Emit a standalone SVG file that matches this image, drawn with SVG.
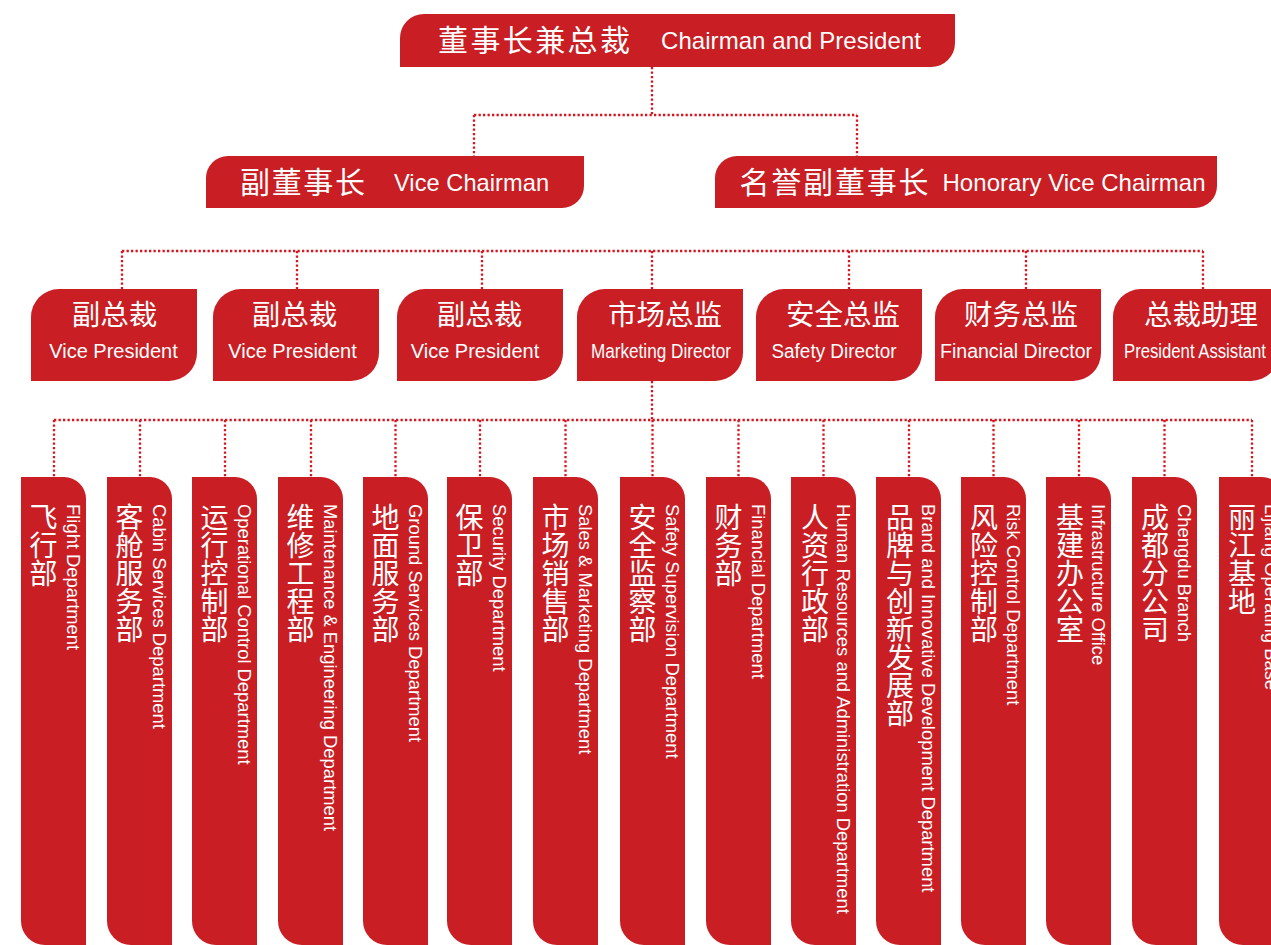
<svg xmlns="http://www.w3.org/2000/svg" xmlns:xlink="http://www.w3.org/1999/xlink" width="1271" height="945" viewBox="0 0 1271 945">
<style>
.box{fill:#c81e24}
.zh{font-family:"Noto Sans CJK SC","Noto Sans CJK TC",sans-serif;fill:#fff}
.en{font-family:"Liberation Sans",Arial,sans-serif;fill:#fff}
.dot{fill:none;stroke:#d8161f;stroke-width:2.3;stroke-dasharray:2.3 2.2}
.vz{font-family:"Noto Sans CJK SC",sans-serif;fill:#fff;font-size:28px;writing-mode:vertical-rl}
.ve{font-family:"Liberation Sans",Arial,sans-serif;fill:#fff;font-size:18.4px}
.l3z{font-size:28.5px;text-anchor:middle}
.l3e{font-size:20px;text-anchor:middle}
</style>
<defs>
<path id="l3" d="M28,0 H166 V64 A28,28 0 0 1 138,92 H0 V28 A28,28 0 0 1 28,0 Z"/>
<path id="dp" d="M0,0 H43 A22,22 0 0 1 65,22 V468 H24 A24,24 0 0 1 0,444 Z"/>
</defs>
<g id="connectors" class="dot">
<path d="M652,67 V115 M474,115 H857 M474,115 V156 M857,115 V156"/>
<path d="M122,251 H1203 M122,251 V289 M297,251 V289 M482,251 V289 M652,251 V289 M849,251 V289 M1026,251 V289 M1203,251 V289"/>
<path d="M652,381 V420 M54,420 H1252 M54,420 V477 M140,420 V477 M225,420 V477 M311,420 V477 M395.5,420 V477 M480,420 V477 M565.5,420 V477 M652.5,420 V477 M738.5,420 V477 M823.5,420 V477 M909,420 V477 M993.5,420 V477 M1079,420 V477 M1164.5,420 V477 M1252,420 V477"/>
</g>
<g id="chairman">
<path class="box" d="M424,14 H955 V43 A24,24 0 0 1 931,67 H400 V38 A24,24 0 0 1 424,14 Z"/>
<text class="zh" x="438" y="51" font-size="30" textLength="192">董事长兼总裁</text>
<text class="en" x="661" y="49" font-size="24" textLength="260">Chairman and President</text>
</g>
<g id="vice-chairman">
<path class="box" d="M228,156 H584 V186 A22,22 0 0 1 562,208 H206 V178 A22,22 0 0 1 228,156 Z"/>
<text class="zh" x="240" y="193" font-size="30" textLength="125">副董事长</text>
<text class="en" x="394" y="191" font-size="23.6" textLength="155">Vice Chairman</text>
</g>
<g id="honorary-vice-chairman">
<path class="box" d="M737,156 H1217 V186 A22,22 0 0 1 1195,208 H715 V178 A22,22 0 0 1 737,156 Z"/>
<text class="zh" x="739.5" y="193" font-size="30" textLength="189">名誉副董事长</text>
<text class="en" x="942.5" y="191" font-size="24" textLength="263">Honorary Vice Chairman</text>
</g>
<g id="vp1"><use href="#l3" class="box" x="31" y="289"/><text class="zh l3z" x="114.5" y="325">副总裁</text><text class="en l3e" x="113.5" y="358" font-size="21">Vice President</text></g>
<g id="vp2"><use href="#l3" class="box" x="213" y="289"/><text class="zh l3z" x="294.5" y="325">副总裁</text><text class="en l3e" x="292.5" y="358" font-size="21">Vice President</text></g>
<g id="vp3"><use href="#l3" class="box" x="397" y="289"/><text class="zh l3z" x="479.5" y="325">副总裁</text><text class="en l3e" x="475" y="358" font-size="21">Vice President</text></g>
<g id="marketing-director"><use href="#l3" class="box" x="577" y="289"/><text class="zh l3z" x="665" y="325">市场总监</text><text class="en l3e" x="661" y="358" textLength="140" lengthAdjust="spacingAndGlyphs">Marketing Director</text></g>
<g id="safety-director"><use href="#l3" class="box" x="756" y="289"/><text class="zh l3z" x="843" y="325">安全总监</text><text class="en l3e" x="834" y="358" textLength="125" lengthAdjust="spacingAndGlyphs">Safety Director</text></g>
<g id="financial-director"><use href="#l3" class="box" x="935" y="289"/><text class="zh l3z" x="1021" y="325">财务总监</text><text class="en l3e" x="1016" y="358" textLength="152" lengthAdjust="spacingAndGlyphs">Financial Director</text></g>
<g id="president-assistant"><use href="#l3" class="box" x="1113" y="289"/><text class="zh l3z" x="1201" y="325">总裁助理</text><text class="en l3e" x="1195" y="358" font-size="17" textLength="142" lengthAdjust="spacingAndGlyphs">President Assistant</text></g>
<g id="d1"><use href="#dp" class="box" x="21" y="477"/><text class="vz" x="43.5" y="503">飞行部</text><text class="ve" transform="translate(67,504) rotate(90)">Flight Department</text></g>
<g id="d2"><use href="#dp" class="box" x="107" y="477"/><text class="vz" x="129.5" y="503">客舱服务部</text><text class="ve" transform="translate(153,504) rotate(90)">Cabin Services Department</text></g>
<g id="d3"><use href="#dp" class="box" x="192" y="477"/><text class="vz" x="214.5" y="503">运行控制部</text><text class="ve" transform="translate(238,504) rotate(90)">Operational Control Department</text></g>
<g id="d4"><use href="#dp" class="box" x="278" y="477"/><text class="vz" x="300.5" y="503">维修工程部</text><text class="ve" transform="translate(324,504) rotate(90)">Maintenance &amp; Engineering Department</text></g>
<g id="d5"><use href="#dp" class="box" x="363" y="477"/><text class="vz" x="385.5" y="503">地面服务部</text><text class="ve" transform="translate(409,504) rotate(90)">Ground Services Department</text></g>
<g id="d6"><use href="#dp" class="box" x="447" y="477"/><text class="vz" x="469.5" y="503">保卫部</text><text class="ve" transform="translate(493,504) rotate(90)">Security Department</text></g>
<g id="d7"><use href="#dp" class="box" x="533" y="477"/><text class="vz" x="555.5" y="503">市场销售部</text><text class="ve" transform="translate(579,504) rotate(90)">Sales &amp; Marketing Department</text></g>
<g id="d8"><use href="#dp" class="box" x="620" y="477"/><text class="vz" x="642.5" y="503">安全监察部</text><text class="ve" transform="translate(666,504) rotate(90)">Safety Supervision Department</text></g>
<g id="d9"><use href="#dp" class="box" x="706" y="477"/><text class="vz" x="728.5" y="503">财务部</text><text class="ve" transform="translate(752,504) rotate(90)">Financial Department</text></g>
<g id="d10"><use href="#dp" class="box" x="791" y="477"/><text class="vz" x="815" y="503">人资行政部</text><text class="ve" transform="translate(837,504) rotate(90)">Human Resources and Administration Department</text></g>
<g id="d11"><use href="#dp" class="box" x="876" y="477"/><text class="vz" x="900" y="503">品牌与创新发展部</text><text class="ve" transform="translate(922,504) rotate(90)">Brand and Innovative Development Department</text></g>
<g id="d12"><use href="#dp" class="box" x="961" y="477"/><text class="vz" x="984" y="503">风险控制部</text><text class="ve" transform="translate(1007,504) rotate(90)">Risk Control Department</text></g>
<g id="d13"><use href="#dp" class="box" x="1046" y="477"/><text class="vz" x="1070" y="503">基建办公室</text><text class="ve" transform="translate(1092,504) rotate(90)">Infrastructure Office</text></g>
<g id="d14"><use href="#dp" class="box" x="1132" y="477"/><text class="vz" x="1155" y="503">成都分公司</text><text class="ve" transform="translate(1178,504) rotate(90)">Chengdu Branch</text></g>
<g id="d15"><use href="#dp" class="box" x="1219" y="477"/><text class="vz" x="1242" y="503">丽江基地</text><text class="ve" transform="translate(1265,504) rotate(90)">Lijiang Operating Base</text></g>
</svg>
